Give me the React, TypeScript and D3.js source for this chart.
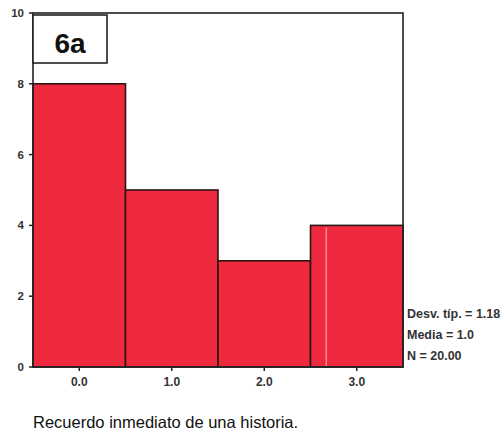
import React from "react";
import * as d3 from "d3";

const categories = [0, 1, 2, 3];
const counts = [8, 5, 3, 4];
const yTicks = [0, 2, 4, 6, 8, 10];
const xTickLabels = ["0.0", "1.0", "2.0", "3.0"];
const statLines = ["Desv. típ. = 1.18", "Media = 1.0", "N = 20.00"];
const panelLabel = "6a";
const xTitle = "Recuerdo inmediato de una historia.";

export default function App() {
  const W = 503, H = 433;
  const left = 33, right = 403, top = 13, bottom = 367;
  const x = d3.scaleLinear().domain([-0.5, 3.5]).range([left, right]);
  const y = d3.scaleLinear().domain([0, 10]).range([bottom, top]);
  const font = "Liberation Sans, Arial, sans-serif";
  const fill = "#f02a3e";
  return (
    <svg width={W} height={H} style={{ position: "absolute", left: 0, top: 0, background: "#fff" }}>
      <rect x={0} y={0} width={W} height={H} fill="#fff" />
      {categories.map((c, i) => (
        <rect key={c} x={x(c - 0.5)} y={y(counts[i])} width={x(c + 0.5) - x(c - 0.5)} height={y(0) - y(counts[i])}
          fill={fill} stroke="#2a1414" strokeWidth={1.6} />
      ))}
      <line x1={x(2.67)} x2={x(2.67)} y1={y(4) + 2} y2={y(0) - 1} stroke="#ffd8dc" strokeWidth={1} opacity={0.8} />
      <rect x={left} y={top} width={right - left} height={bottom - top} fill="none" stroke="#222" strokeWidth={1.6} />
      {yTicks.map(t => (
        <g key={t}>
          <line x1={left - 4} x2={left} y1={y(t)} y2={y(t)} stroke="#222" strokeWidth={1.5} />
          <text x={24} y={y(t) + 4} textAnchor="end" fontFamily={font} fontSize={11.5} fontWeight="bold" fill="#333">{t}</text>
        </g>
      ))}
      {categories.map((c, i) => (
        <g key={c}>
          <line x1={x(c)} x2={x(c)} y1={bottom} y2={bottom + 4} stroke="#222" strokeWidth={1.5} />
          <text x={x(c)} y={386} textAnchor="middle" fontFamily={font} fontSize={12} fontWeight="bold" fill="#333">{xTickLabels[i]}</text>
        </g>
      ))}
      <rect x={left} y={15} width={74} height={48} fill="#fff" stroke="#222" strokeWidth={1.6} />
      <text x={left + 37} y={53} textAnchor="middle" fontFamily={font} fontSize={28} fontWeight="bold" fill="#111">{panelLabel}</text>
      {statLines.map((s, i) => (
        <text key={s} x={407} y={318 + i * 21} fontFamily={font} fontSize={12.5} fontWeight="bold" fill="#333">{s}</text>
      ))}
      <text x={33} y={428} fontFamily={font} fontSize={16.5} fill="#111">{xTitle}</text>
    </svg>
  );
}
